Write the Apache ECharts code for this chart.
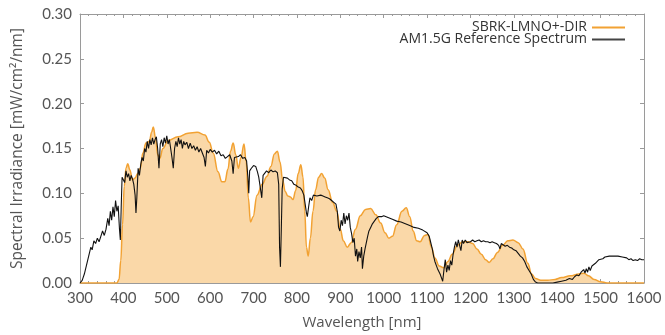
<!DOCTYPE html>
<html>
<head>
<meta charset="utf-8">
<script src="https://cdn.jsdelivr.net/npm/echarts/dist/echarts.min.js"></script>
<style>
  html, body { margin: 0; padding: 0; background: #fff; }
  #chart { width: 665px; height: 335px; }
</style>
</head>
<body>
<div id="chart"></div>
<script>
// x axis ticks (nm) and y axis ticks
const xTicks = [300, 400, 500, 600, 700, 800, 900, 1000, 1100, 1200, 1300, 1400, 1500, 1600];
const yTicks = [0, 0.05, 0.1, 0.15, 0.2, 0.25, 0.3];

// SBRK-LMNO+-DIR spectrum [nm, mW/cm2/nm]
const sbrkSpectrum = [
  [300, 0], [385, 0], [390, 0.004], [394, 0.025], [398, 0.065], [402, 0.108], [406, 0.128],
  [410, 0.133], [415, 0.126], [421, 0.115], [427, 0.117], [433, 0.122], [439, 0.128],
  [445, 0.145], [452, 0.156], [460, 0.158], [465, 0.168], [469, 0.174], [474, 0.162],
  [479, 0.143], [484, 0.139], [491, 0.150], [503, 0.159], [526, 0.163], [549, 0.167],
  [570, 0.168], [588, 0.165], [598, 0.157], [607, 0.145], [618, 0.124], [627, 0.113],
  [634, 0.113], [641, 0.127], [647, 0.147], [653, 0.156], [659, 0.143], [665, 0.128],
  [671, 0.140], [678, 0.155], [683, 0.135], [688, 0.095], [693, 0.068], [699, 0.074],
  [708, 0.098], [720, 0.110], [731, 0.119], [740, 0.130], [748, 0.144], [755, 0.147],
  [761, 0.135], [767, 0.115], [773, 0.102], [779, 0.097], [785, 0.096], [791, 0.093],
  [797, 0.103], [803, 0.122], [809, 0.132], [814, 0.118], [818, 0.080], [822, 0.040],
  [826, 0.030], [831, 0.050], [837, 0.080], [843, 0.104], [850, 0.118], [857, 0.122],
  [864, 0.117], [872, 0.104], [882, 0.090], [892, 0.080], [900, 0.060], [907, 0.047],
  [916, 0.040], [925, 0.045], [935, 0.060], [946, 0.075], [958, 0.082], [970, 0.083],
  [982, 0.076], [993, 0.067], [1003, 0.056], [1012, 0.050], [1020, 0.052], [1030, 0.065],
  [1042, 0.080], [1052, 0.084], [1060, 0.074], [1068, 0.058], [1076, 0.047], [1084, 0.046],
  [1094, 0.053], [1102, 0.054], [1110, 0.040], [1118, 0.028], [1128, 0.019], [1138, 0.017],
  [1148, 0.024], [1158, 0.032], [1170, 0.042], [1182, 0.046], [1194, 0.046], [1205, 0.044],
  [1215, 0.038], [1225, 0.032], [1235, 0.026], [1243, 0.023], [1252, 0.027], [1262, 0.034],
  [1274, 0.042], [1286, 0.047], [1298, 0.048], [1310, 0.045], [1321, 0.038], [1332, 0.022],
  [1341, 0.010], [1350, 0.005], [1362, 0.003], [1378, 0.003], [1395, 0.004], [1410, 0.006],
  [1430, 0.008], [1450, 0.010], [1462, 0.011], [1472, 0.008], [1485, 0.004], [1500, 0.0015],
  [1515, 0], [1600, 0]
];

// AM1.5G reference spectrum [nm, mW/cm2/nm]
const am15gSpectrum = [
  [300, 0], [305, 0.003], [310, 0.010], [315, 0.020], [320, 0.030], [325, 0.040], [328, 0.037],
  [332, 0.047], [336, 0.044], [340, 0.050], [344, 0.046], [348, 0.052], [352, 0.058],
  [356, 0.053], [360, 0.060], [364, 0.072], [367, 0.064], [370, 0.080], [373, 0.070],
  [376, 0.085], [379, 0.074], [382, 0.092], [385, 0.080], [388, 0.086], [391, 0.060],
  [393, 0.048], [395, 0.085], [397, 0.118], [400, 0.120], [403, 0.112], [406, 0.125],
  [409, 0.118], [412, 0.122], [415, 0.114], [418, 0.120], [421, 0.116], [424, 0.110],
  [427, 0.098], [429, 0.078], [431, 0.095], [434, 0.128], [437, 0.120], [440, 0.132],
  [443, 0.140], [446, 0.136], [449, 0.150], [452, 0.146], [455, 0.158], [458, 0.150],
  [461, 0.160], [464, 0.154], [467, 0.162], [470, 0.155], [473, 0.160], [476, 0.163],
  [479, 0.150], [482, 0.128], [485, 0.155], [488, 0.160], [491, 0.152], [494, 0.162],
  [497, 0.156], [500, 0.164], [503, 0.155], [506, 0.160], [509, 0.158], [512, 0.140],
  [515, 0.128], [518, 0.150], [521, 0.158], [524, 0.152], [527, 0.162], [530, 0.155],
  [533, 0.160], [536, 0.150], [539, 0.158], [542, 0.154], [546, 0.157], [550, 0.150],
  [554, 0.156], [558, 0.150], [562, 0.153], [566, 0.148], [570, 0.152], [574, 0.146],
  [578, 0.150], [582, 0.145], [586, 0.140], [589, 0.130], [592, 0.148], [596, 0.145],
  [600, 0.149], [605, 0.146], [610, 0.148], [615, 0.144], [620, 0.147], [625, 0.142],
  [630, 0.143], [635, 0.139], [640, 0.141], [645, 0.143], [650, 0.136], [653, 0.122],
  [656, 0.140], [660, 0.142], [665, 0.141], [670, 0.143], [675, 0.139], [680, 0.140],
  [684, 0.136], [687, 0.118], [689, 0.100], [691, 0.125], [695, 0.128], [700, 0.131],
  [705, 0.130], [709, 0.124], [712, 0.118], [716, 0.105], [719, 0.095], [722, 0.120],
  [726, 0.122], [730, 0.125], [735, 0.123], [740, 0.126], [745, 0.124], [750, 0.125],
  [755, 0.123], [758, 0.110], [760, 0.040], [762, 0.018], [764, 0.060], [766, 0.105],
  [769, 0.118], [773, 0.116], [778, 0.117], [783, 0.115], [788, 0.114], [793, 0.110],
  [798, 0.109], [803, 0.107], [808, 0.106], [812, 0.103], [816, 0.098], [819, 0.088],
  [822, 0.078], [824, 0.074], [827, 0.085], [830, 0.095], [834, 0.092], [838, 0.098],
  [842, 0.100], [846, 0.097], [850, 0.099], [855, 0.098], [860, 0.097], [865, 0.096],
  [870, 0.095], [875, 0.094], [880, 0.092], [885, 0.090], [890, 0.088], [893, 0.080],
  [896, 0.062], [899, 0.058], [902, 0.070], [905, 0.064], [908, 0.078], [911, 0.066],
  [914, 0.075], [917, 0.070], [920, 0.078], [923, 0.062], [926, 0.055], [929, 0.045],
  [932, 0.050], [935, 0.030], [938, 0.038], [940, 0.024], [943, 0.035], [946, 0.028],
  [949, 0.040], [951, 0.016], [954, 0.030], [957, 0.038], [960, 0.045], [963, 0.052],
  [966, 0.058], [970, 0.062], [974, 0.066], [978, 0.068], [983, 0.072], [988, 0.074],
  [995, 0.074], [1000, 0.075], [1010, 0.073], [1020, 0.071], [1030, 0.069], [1040, 0.068],
  [1050, 0.066], [1060, 0.064], [1070, 0.062], [1080, 0.061], [1090, 0.059], [1100, 0.056],
  [1105, 0.052], [1108, 0.046], [1112, 0.038], [1115, 0.030], [1118, 0.024], [1121, 0.020],
  [1124, 0.016], [1127, 0.014], [1130, 0.010], [1133, 0.006], [1136, 0.002], [1139, 0.015],
  [1142, 0.026], [1145, 0.012], [1148, 0.020], [1151, 0.014], [1154, 0.025], [1157, 0.020],
  [1160, 0.032], [1163, 0.040], [1166, 0.046], [1169, 0.040], [1172, 0.048], [1175, 0.042],
  [1178, 0.036], [1181, 0.048], [1184, 0.044], [1188, 0.048], [1192, 0.045], [1196, 0.047],
  [1200, 0.046], [1205, 0.048], [1210, 0.046], [1215, 0.047], [1220, 0.048], [1225, 0.046],
  [1230, 0.047], [1235, 0.046], [1240, 0.046], [1245, 0.045], [1250, 0.046], [1255, 0.045],
  [1260, 0.044], [1265, 0.042], [1268, 0.038], [1271, 0.044], [1275, 0.043], [1280, 0.041],
  [1285, 0.042], [1290, 0.040], [1295, 0.039], [1300, 0.037], [1305, 0.036], [1310, 0.033],
  [1315, 0.030], [1320, 0.028], [1325, 0.024], [1330, 0.018], [1335, 0.014], [1340, 0.010],
  [1345, 0.004], [1350, 0.001], [1355, 0], [1390, 0], [1400, 0.001], [1410, 0.002],
  [1420, 0.003], [1428, 0.005], [1435, 0.004], [1440, 0.007], [1445, 0.009], [1450, 0.008],
  [1455, 0.012], [1458, 0.010], [1461, 0.015], [1464, 0.011], [1467, 0.016], [1470, 0.012],
  [1473, 0.018], [1476, 0.014], [1480, 0.019], [1484, 0.017], [1488, 0.022], [1492, 0.024],
  [1496, 0.026], [1500, 0.028], [1505, 0.027], [1510, 0.029], [1520, 0.030], [1530, 0.030],
  [1540, 0.030], [1550, 0.029], [1560, 0.028], [1565, 0.026], [1570, 0.027], [1575, 0.025],
  [1580, 0.026], [1585, 0.025], [1590, 0.027], [1595, 0.026], [1600, 0.026]
];

const FONT = "Lato, 'Noto Sans', sans-serif";
const NAME_FONT = "'Open Sans', Lato, sans-serif";
const axisGray = "#9a9a9a";
const labelGray = "#555";

const chart = echarts.init(document.getElementById("chart"), null, { renderer: "canvas" });

const frameAxis = {
  axisLine: { show: true, onZero: false, lineStyle: { color: axisGray, width: 1 } },
  axisTick: { show: true, inside: true, length: 4, lineStyle: { color: axisGray } },
  splitLine: { show: false },
};

chart.setOption({
  animation: false,
  textStyle: { fontFamily: FONT },
  grid: { left: 80, right: 21, top: 14, bottom: 52 },
  legend: {
    orient: "vertical",
    right: 35,
    top: 15,
    align: "right",
    itemWidth: 33,
    itemHeight: 2,
    itemGap: -3,
    icon: "rect",
    textStyle: { fontFamily: NAME_FONT, fontSize: 14, lineHeight: 15, color: "#333" },
    data: ["SBRK-LMNO+-DIR", "AM1.5G Reference Spectrum"],
  },
  xAxis: [
    {
      type: "value",
      min: xTicks[0],
      max: xTicks[xTicks.length - 1],
      interval: 100,
      name: "Wavelength [nm]",
      nameLocation: "middle",
      nameGap: 32,
      nameTextStyle: { fontFamily: NAME_FONT, fontSize: 15, color: labelGray },
      axisLabel: { fontFamily: FONT, fontSize: 15, color: labelGray, margin: 8, formatter: (v) => String(v) },
      minorTick: { show: true, splitNumber: 5, length: 2, lineStyle: { color: axisGray } },
      ...frameAxis,
    },
    {
      type: "value",
      position: "top",
      min: xTicks[0],
      max: xTicks[xTicks.length - 1],
      interval: 100,
      axisLabel: { show: false },
      minorTick: { show: true, splitNumber: 5, length: 2, lineStyle: { color: axisGray } },
      ...frameAxis,
    },
  ],
  yAxis: [
    {
      type: "value",
      min: yTicks[0],
      max: yTicks[yTicks.length - 1],
      interval: 0.05,
      name: "Spectral Irradiance [mW/cm\u00b2/nm]",
      nameLocation: "middle",
      nameGap: 54,
      nameRotate: 90,
      nameTextStyle: { fontFamily: NAME_FONT, fontSize: 15.5, color: labelGray },
      axisLabel: {
        fontFamily: FONT, fontSize: 15, color: labelGray, margin: 8,
        formatter: (v) => v.toFixed(2),
      },
      ...frameAxis,
    },
    {
      type: "value",
      position: "right",
      min: yTicks[0],
      max: yTicks[yTicks.length - 1],
      interval: 0.05,
      axisLabel: { show: false },
      ...frameAxis,
    },
  ],
  series: [
    {
      name: "SBRK-LMNO+-DIR",
      type: "line",
      data: sbrkSpectrum,
      symbol: "none",
      smooth: 0.4,
      smoothMonotone: "x",
      itemStyle: { color: "#f2a233" },
      lineStyle: { color: "#f2a233", width: 1.5 },
      areaStyle: { color: "#fad8a8", opacity: 1 },
      z: 2,
    },
    {
      name: "AM1.5G Reference Spectrum",
      type: "line",
      data: am15gSpectrum,
      symbol: "none",
      itemStyle: { color: "#444" },
      lineStyle: { color: "#111", width: 1.1 },
      z: 3,
    },
  ],
});
</script>
</body>
</html>
